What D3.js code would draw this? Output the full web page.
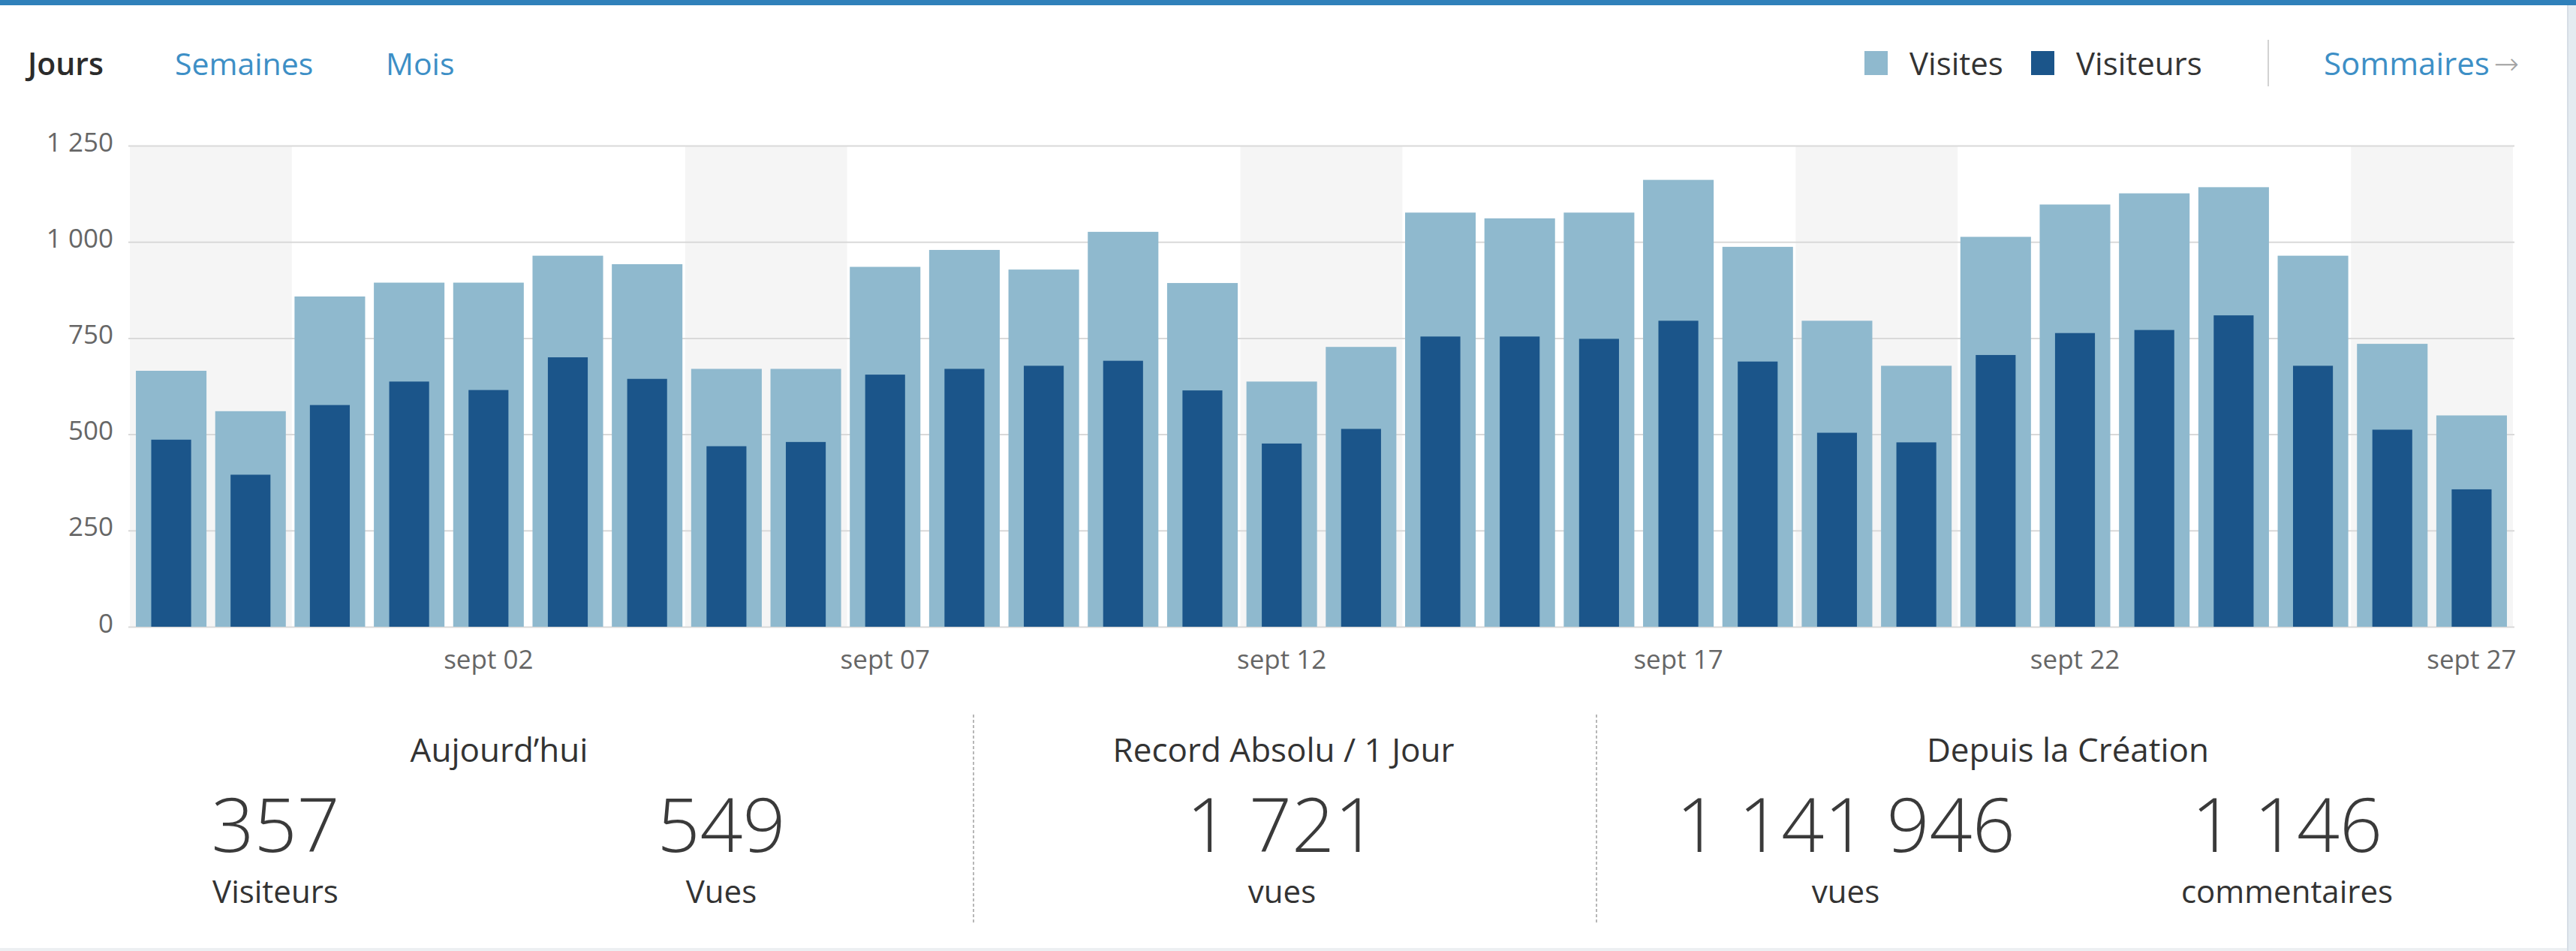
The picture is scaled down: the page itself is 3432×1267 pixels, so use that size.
<!DOCTYPE html>
<html>
<head>
<meta charset="UTF-8">
<title>Statistiques</title>
<script src="https://d3js.org/d3.v7.min.js"></script>
<style>
  body { margin: 0; background: #fff; font-family: "Open Sans", sans-serif; }
  svg { display: block; }
  .tab { font-size: 41px; fill: #3d8fc6; }
  .tab.active { fill: #2b2b2b; font-weight: 600; }
  .legend-text { font-size: 42px; fill: #333; }
  .link { font-size: 42px; fill: #3d8fc6; }
  .arrow { fill: #a3a3a3; font-family: "DejaVu Sans", sans-serif; font-size: 40px; font-weight: 300; }
  .axis text { font-family: "Open Sans", sans-serif; font-size: 35px; fill: #666; }
  .y-axis line { stroke: #d9d9d9; stroke-width: 2; }
  .stat-title { font-size: 44px; fill: #333; text-anchor: middle; }
  .stat-value { font-size: 100px; font-weight: 300; fill: #3a3a3a; text-anchor: middle; }
  .stat-label { font-size: 42px; fill: #333; text-anchor: middle; }
</style>
</head>
<body>
<div id="chart"></div>
<script>
// --- data ---
const days = [
  "2015-08-29","2015-08-30","2015-08-31","2015-09-01","2015-09-02","2015-09-03",
  "2015-09-04","2015-09-05","2015-09-06","2015-09-07","2015-09-08","2015-09-09",
  "2015-09-10","2015-09-11","2015-09-12","2015-09-13","2015-09-14","2015-09-15",
  "2015-09-16","2015-09-17","2015-09-18","2015-09-19","2015-09-20","2015-09-21",
  "2015-09-22","2015-09-23","2015-09-24","2015-09-25","2015-09-26","2015-09-27"
];
const visites = [665, 560, 858, 894, 894, 964, 942, 670, 670, 935, 979, 928, 1026, 893, 637,
                 727, 1076, 1061, 1076, 1161, 987, 795, 678, 1013, 1097, 1126, 1142, 964, 735, 549];
const visiteurs = [486, 395, 576, 637, 615, 700, 644, 469, 480, 655, 670, 678, 691, 614, 476,
                   514, 754, 754, 748, 795, 689, 504, 479, 706, 763, 771, 809, 678, 512, 357];
const xTickDays = ["2015-09-02","2015-09-07","2015-09-12","2015-09-17","2015-09-22","2015-09-27"];
const xTickLabels = ["sept 02","sept 07","sept 12","sept 17","sept 22","sept 27"];
const yTicks = [0, 250, 500, 750, 1000, 1250];

const tabs = ["Jours", "Semaines", "Mois"];
const legendNames = ["Visites", "Visiteurs"];
const statTitles = ["Aujourd’hui", "Record Absolu / 1 Jour", "Depuis la Création"];
const statValues = [357, 549, 1721, 1141946, 1146];
const statLabels = ["Visiteurs", "Vues", "vues", "vues", "commentaires"];

// --- layout ---
const W = 3432, H = 1267;
const plotLeft = 171, plotRight = 3350, plotTop = 194, plotBottom = 835;
const colors = { visites: "#8fb9ce", visiteurs: "#1b558a", shade: "#f5f5f5" };
const tabX = [37, 233, 514];
const legendX = [2484, 2706];
const titleX = [665, 1710, 2755];
const valueX = [367, 961, 1708, 2459, 3047];
const dividerX = [1297, 2127];

const fr = d3.formatLocale({ decimal: ",", thousands: "\u00a0", grouping: [3], currency: ["", " €"] });
const fmt = fr.format(",d");

const svg = d3.select("#chart").append("svg")
  .attr("width", W)
  .attr("height", H);

// frame bits
svg.append("rect").attr("x", 0).attr("y", 0).attr("width", W).attr("height", 7).attr("fill", "#2f80ba");
svg.append("rect").attr("x", 3421).attr("y", 7).attr("width", 11).attr("height", H).attr("fill", "#e4ebf1");
svg.append("rect").attr("x", 3420).attr("y", 7).attr("width", 2).attr("height", H).attr("fill", "#d6dee6");
svg.append("rect").attr("x", 0).attr("y", 1263).attr("width", 3420).attr("height", 4).attr("fill", "#eceff2");

// tabs
svg.selectAll(".tab").data(tabs).enter()
  .append("text")
    .attr("class", (d, i) => i === 0 ? "tab active" : "tab")
    .attr("x", (d, i) => tabX[i])
    .attr("y", 100)
    .text(d => d);

// legend
const leg = svg.selectAll(".legend").data(legendNames).enter()
  .append("g").attr("class", "legend")
  .attr("transform", (d, i) => "translate(" + legendX[i] + ",0)");
leg.append("rect")
  .attr("x", 0).attr("y", 68).attr("width", 31).attr("height", 32)
  .attr("fill", (d, i) => i === 0 ? colors.visites : colors.visiteurs);
leg.append("text")
  .attr("class", "legend-text")
  .attr("x", 60).attr("y", 100)
  .text(d => d);

svg.append("line")
  .attr("x1", 3022).attr("x2", 3022).attr("y1", 53).attr("y2", 115)
  .attr("stroke", "#d2d2d2").attr("stroke-width", 2);

const link = svg.append("text").attr("x", 3096).attr("y", 100);
link.append("tspan").attr("class", "link").text("Sommaires");
link.append("tspan").attr("class", "arrow").attr("dx", 6).attr("dy", -1).text("→");

// scales
const x = d3.scaleBand()
  .domain(days)
  .range([plotLeft, plotRight])
  .paddingInner(0.11)
  .paddingOuter(0.095);
const y = d3.scaleLinear()
  .domain([0, 1250])
  .range([plotBottom, plotTop]);

// weekend shading
const parse = d3.timeParse("%Y-%m-%d");
const saturdays = days.filter(d => parse(d).getDay() === 6);
svg.append("g").selectAll("rect").data(saturdays).enter()
  .append("rect")
    .attr("x", d => Math.max(plotLeft, x(d) - 8))
    .attr("y", plotTop)
    .attr("width", d => {
      const x0 = Math.max(plotLeft, x(d) - 8);
      const x1 = Math.min(plotRight, x(d) + x.step() + x.bandwidth() + 8);
      return x1 - x0;
    })
    .attr("height", plotBottom - plotTop)
    .attr("fill", colors.shade);

// y axis + grid
svg.append("g")
  .attr("class", "axis y-axis")
  .attr("transform", "translate(" + plotLeft + ",0)")
  .call(d3.axisLeft(y).tickValues(yTicks).tickSize(-(plotRight - plotLeft)).tickPadding(20).tickFormat(fmt))
  .call(g => g.select(".domain").remove())
  .call(g => g.selectAll("text").attr("dy", "0.2em"));

// bars
svg.append("g").selectAll("rect").data(days).enter()
  .append("rect")
    .attr("x", d => x(d))
    .attr("y", (d, i) => y(visites[i]))
    .attr("width", x.bandwidth())
    .attr("height", (d, i) => y(0) - y(visites[i]))
    .attr("fill", colors.visites);

const innerW = x.bandwidth() * 0.565;
svg.append("g").selectAll("rect").data(days).enter()
  .append("rect")
    .attr("x", d => x(d) + (x.bandwidth() - innerW) / 2)
    .attr("y", (d, i) => y(visiteurs[i]))
    .attr("width", innerW)
    .attr("height", (d, i) => y(0) - y(visiteurs[i]))
    .attr("fill", colors.visiteurs);

// x axis
svg.append("g")
  .attr("class", "axis x-axis")
  .attr("transform", "translate(0," + plotBottom + ")")
  .call(d3.axisBottom(x).tickValues(xTickDays).tickSize(0).tickPadding(31)
    .tickFormat((d, i) => xTickLabels[i]))
  .call(g => g.select(".domain").remove());

// summary stats
svg.selectAll(".stat-title").data(statTitles).enter()
  .append("text")
    .attr("class", "stat-title")
    .attr("x", (d, i) => titleX[i])
    .attr("y", 1015)
    .text(d => d);

svg.selectAll(".stat-value").data(statValues).enter()
  .append("text")
    .attr("class", "stat-value")
    .attr("x", (d, i) => valueX[i])
    .attr("y", 1135)
    .text(d => fmt(d));

svg.selectAll(".stat-label").data(statLabels).enter()
  .append("text")
    .attr("class", "stat-label")
    .attr("x", (d, i) => valueX[i])
    .attr("y", 1203)
    .text(d => d);

svg.selectAll(".divider").data(dividerX).enter()
  .append("line")
    .attr("x1", d => d).attr("x2", d => d)
    .attr("y1", 952).attr("y2", 1232)
    .attr("stroke", "#a0a0a0")
    .attr("stroke-width", 1.5)
    .attr("stroke-dasharray", "4,3");
</script>
</body>
</html>
